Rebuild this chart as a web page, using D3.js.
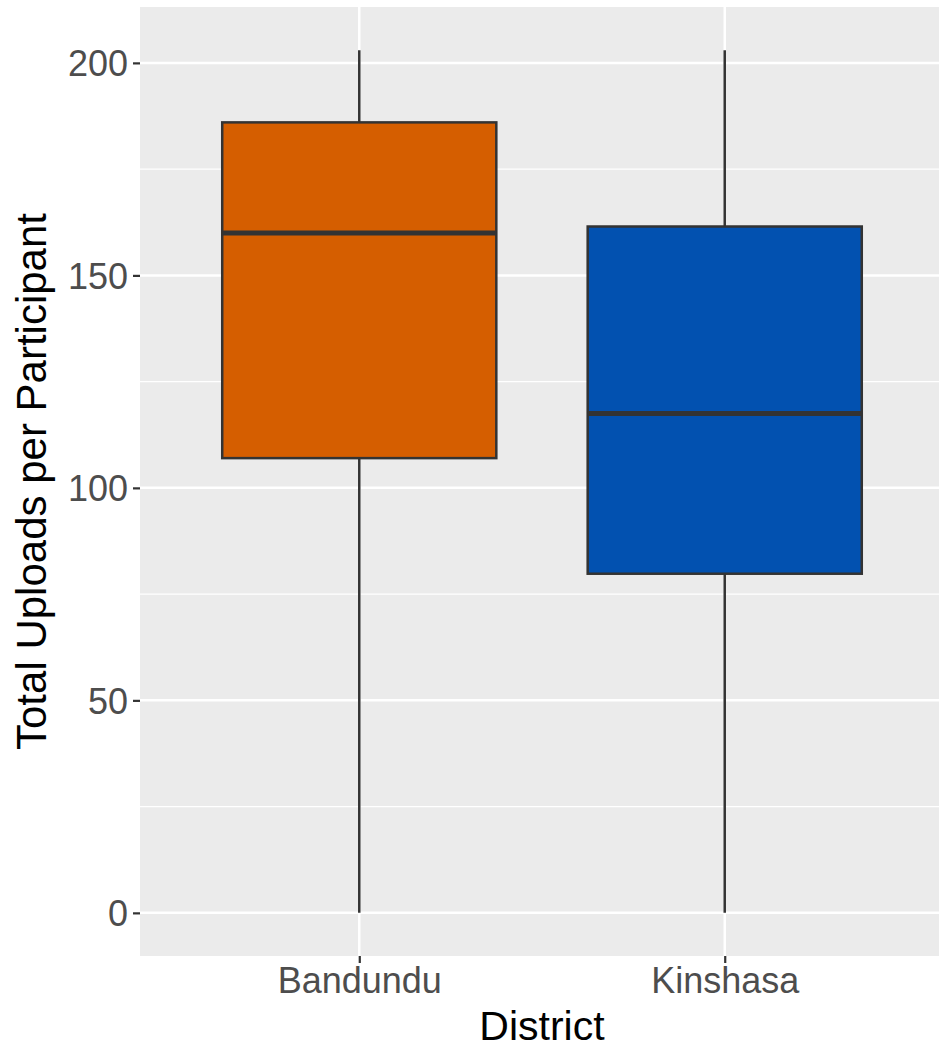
<!DOCTYPE html>
<html>
<head>
<meta charset="utf-8">
<script src="https://cdn.jsdelivr.net/npm/d3@7"></script>
<style>
  body { margin: 0; background: #fff; }
  svg { display: block; font-family: "Liberation Sans", Arial, sans-serif; }
</style>
</head>
<body>
<svg width="939" height="1049"></svg>
<script>
// Data
const districts = ["Bandundu", "Kinshasa"];
const lowerWhisker = [0, 0];
const q1 = [107, 79.8];
const median = [160, 117.5];
const q3 = [186, 161.5];
const upperWhisker = [203, 203];
const fills = ["#D55E00", "#0251B0"];
const yTicks = [0, 50, 100, 150, 200];
const yMinor = [25, 75, 125, 175];

const svg = d3.select("svg");

// Panel area
const panelLeft = 140, panelRight = 944, panelTop = 7, panelBottom = 956;

// ggplot style expansion: 5% on continuous, 0.6 on discrete
const yMax = d3.max(upperWhisker), yMin = d3.min(lowerWhisker);
const pad = (yMax - yMin) * 0.05;
const y = d3.scaleLinear().domain([yMin - pad, yMax + pad]).range([panelBottom, panelTop]);

const x = d3.scaleLinear().domain([0.4, districts.length + 0.6]).range([panelLeft, panelRight]);
const boxWidth = 0.75;

const boxes = districts.map((d, i) => ({
    name: d, pos: i + 1,
    lo: lowerWhisker[i], q1: q1[i], med: median[i], q3: q3[i], hi: upperWhisker[i],
    fill: fills[i]
}));

// Panel background
svg.append("rect")
    .attr("x", panelLeft).attr("y", panelTop)
    .attr("width", panelRight - panelLeft).attr("height", panelBottom - panelTop)
    .attr("fill", "#EBEBEB");

// Minor gridlines
svg.selectAll(".minor")
    .data(yMinor)
    .enter().append("line")
    .attr("x1", panelLeft).attr("x2", panelRight)
    .attr("y1", d => y(d)).attr("y2", d => y(d))
    .attr("stroke", "#fff").attr("stroke-width", 1.2);

// Major gridlines
svg.selectAll(".major")
    .data(yTicks)
    .enter().append("line")
    .attr("x1", panelLeft).attr("x2", panelRight)
    .attr("y1", d => y(d)).attr("y2", d => y(d))
    .attr("stroke", "#fff").attr("stroke-width", 2.5);

svg.selectAll(".vmajor")
    .data(boxes)
    .enter().append("line")
    .attr("x1", d => x(d.pos)).attr("x2", d => x(d.pos))
    .attr("y1", panelTop).attr("y2", panelBottom)
    .attr("stroke", "#fff").attr("stroke-width", 2.5);

// Whiskers
const g = svg.selectAll(".box")
    .data(boxes)
    .enter().append("g");

g.append("line")
    .attr("x1", d => x(d.pos)).attr("x2", d => x(d.pos))
    .attr("y1", d => y(d.hi)).attr("y2", d => y(d.lo))
    .attr("stroke", "#333333").attr("stroke-width", 2.5);

// Boxes
g.append("rect")
    .attr("x", d => x(d.pos - boxWidth / 2))
    .attr("width", d => x(d.pos + boxWidth / 2) - x(d.pos - boxWidth / 2))
    .attr("y", d => y(d.q3))
    .attr("height", d => y(d.q1) - y(d.q3))
    .attr("fill", d => d.fill)
    .attr("stroke", "#333333").attr("stroke-width", 2.5);

// Medians
g.append("line")
    .attr("x1", d => x(d.pos - boxWidth / 2)).attr("x2", d => x(d.pos + boxWidth / 2))
    .attr("y1", d => y(d.med)).attr("y2", d => y(d.med))
    .attr("stroke", "#333333").attr("stroke-width", 5);

// Y axis
const yAxis = d3.axisLeft(y).tickValues(yTicks).tickSize(7).tickPadding(5);
const ya = svg.append("g").attr("transform", `translate(${panelLeft},0)`).call(yAxis);
ya.select(".domain").remove();
ya.selectAll(".tick line").attr("stroke", "#333333").attr("stroke-width", 2.2);
ya.selectAll(".tick text")
    .attr("fill", "#4D4D4D").attr("font-size", 36)
    .attr("font-family", "Liberation Sans, Arial, sans-serif")
    .attr("dy", "0.36em");

// X axis
const xAxis = d3.axisBottom(x).tickValues(boxes.map(d => d.pos))
    .tickFormat((d, i) => districts[i]).tickSize(7).tickPadding(4);
const xa = svg.append("g").attr("transform", `translate(0,${panelBottom})`).call(xAxis);
xa.select(".domain").remove();
xa.selectAll(".tick line").attr("stroke", "#333333").attr("stroke-width", 2.2);
xa.selectAll(".tick text")
    .attr("fill", "#4D4D4D").attr("font-size", 36)
    .attr("font-family", "Liberation Sans, Arial, sans-serif");

// Axis titles
svg.append("text")
    .attr("x", (panelLeft + panelRight) / 2).attr("y", 1040)
    .attr("text-anchor", "middle")
    .attr("font-size", 41).attr("fill", "#000")
    .text("District");

svg.append("text")
    .attr("transform", `translate(46,${(panelTop + panelBottom) / 2}) rotate(-90)`)
    .attr("text-anchor", "middle")
    .attr("font-size", 42).attr("fill", "#000")
    .text("Total Uploads per Participant");
</script>
</body>
</html>
